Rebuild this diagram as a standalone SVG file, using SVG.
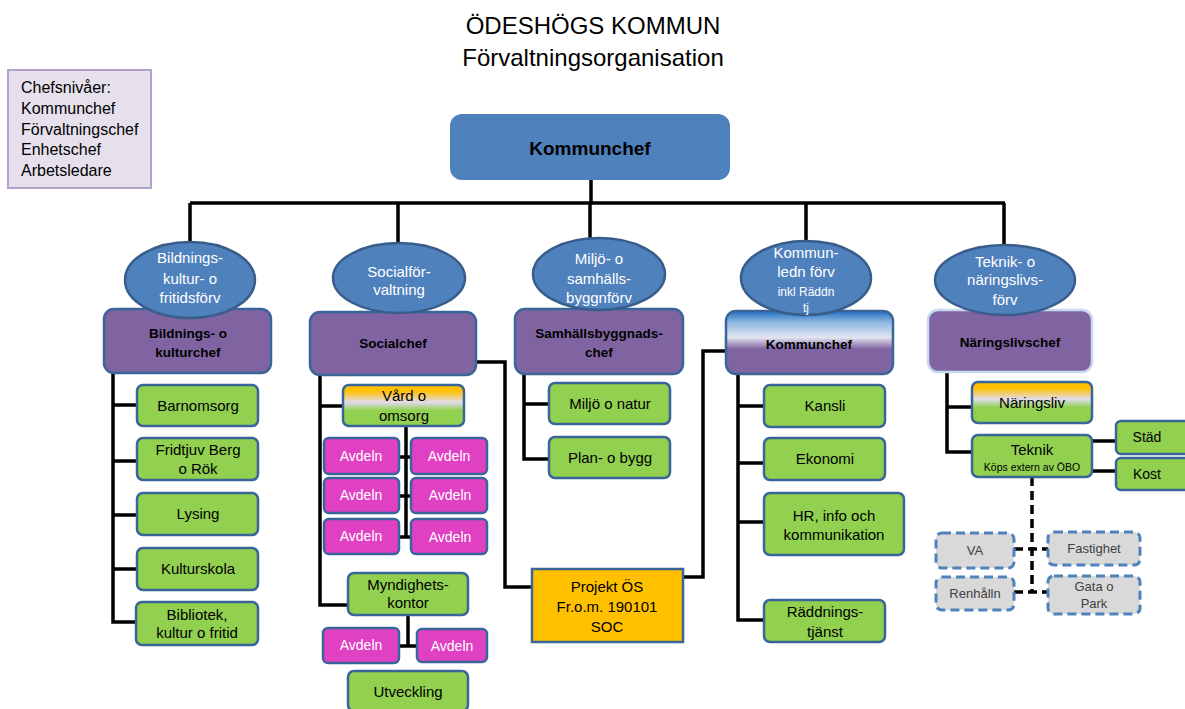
<svg xmlns="http://www.w3.org/2000/svg" width="1185" height="709" viewBox="0 0 1185 709">
<style>
text{font-family:"Liberation Sans",Arial,sans-serif;text-anchor:middle;font-size:15px;fill:#000}
.w{fill:#fff}
.b{font-weight:bold;font-size:13.5px}
.s{font-size:12px}
.g{font-size:13px;fill:#404040}
.l{text-anchor:start;font-size:16px}
.ln{stroke:#000;stroke-width:3.5;fill:none}
.dl{stroke:#000;stroke-width:3.5;fill:none;stroke-dasharray:9 5}
.green{fill:#92d050;stroke:#3a6598;stroke-width:2.5}
.chef{fill:#8064a2;stroke:#3a6598;stroke-width:2.5}
.ell{fill:#4f81bd;stroke:#385d8a;stroke-width:2.5}
.mag{fill:#e040c2;stroke:#3a6598;stroke-width:2.5}
.gray{fill:#d9d9d9;stroke:#4f81bd;stroke-width:3;stroke-dasharray:9 5}
</style>
<defs>
<linearGradient id="gk" x1="0" y1="0" x2="0" y2="1">
<stop offset="0" stop-color="#1f6fc0"/>
<stop offset="0.18" stop-color="#8fb8e2"/>
<stop offset="0.42" stop-color="#e2e4f0"/>
<stop offset="0.6" stop-color="#8064a2"/>
<stop offset="1" stop-color="#8064a2"/>
</linearGradient>
<linearGradient id="go" x1="0" y1="0" x2="0" y2="1">
<stop offset="0" stop-color="#ffc000"/>
<stop offset="0.15" stop-color="#ffc000"/>
<stop offset="0.42" stop-color="#e2dced"/>
<stop offset="0.62" stop-color="#92d050"/>
<stop offset="1" stop-color="#92d050"/>
</linearGradient>
</defs>
<rect width="1185" height="709" fill="#fff"/>
<g id="title">
<text x="593" y="34" style="font-size:24px">ÖDESHÖGS KOMMUN</text>
<text x="593" y="66" style="font-size:24px">Förvaltningsorganisation</text>
</g>
<g id="legend">
<rect x="8" y="70" width="143" height="118" fill="#e6e0ec" stroke="#b3a2c7" stroke-width="2"/>
<text class="l" x="21" y="93">Chefsnivåer:</text>
<text class="l" x="21" y="114">Kommunchef</text>
<text class="l" x="21" y="135">Förvaltningschef</text>
<text class="l" x="21" y="155">Enhetschef</text>
<text class="l" x="21" y="176">Arbetsledare</text>
</g>
<g id="connectors">
<path class="ln" d="M591,180V203M190,203H1005M190,203V243M398,203V243M590,203V240M806,203V243M1004,203V246"/>
<path class="ln" d="M113,373V622H136M113,405H137M113,461H137M113,515H137M113,569H137"/>
<path class="ln" d="M320,375V605H348M320,406H343M406,426V537M399,457H411M399,496H411M399,537H411M408,615V646M399,646H417"/>
<path class="ln" d="M476,362H505V587H532"/>
<path class="ln" d="M683,577H703V351H726"/>
<path class="ln" d="M524,374V459H549M524,404H549"/>
<path class="ln" d="M738,374V620H764M738,406H764M738,463H764M738,522H764"/>
<path class="ln" d="M947,372V452H972M947,407H972M1092,441H1116M1092,471H1116"/>
<path class="dl" d="M1032,477V592M1014,549H1048M1014,592H1048"/>
</g>
<g id="kommunchef-top">
<rect x="450" y="114" width="280" height="66" rx="12" fill="#4f81bd"/>
<text x="590" y="155" style="font-weight:bold;font-size:19px">Kommunchef</text>
</g>
<g id="chef-bildning">
<rect class="chef" x="104" y="309" width="167" height="64" rx="10"/>
<text class="b" x="188" y="338">Bildnings- o</text>
<text class="b" x="188" y="357">kulturchef</text>
</g>
<g id="chef-social">
<rect class="chef" x="310" y="312" width="166" height="63" rx="10"/>
<text class="b" x="393" y="348">Socialchef</text>
</g>
<g id="chef-samhall">
<rect class="chef" x="515" y="309" width="168" height="65" rx="10"/>
<text class="b" x="599" y="338">Samhällsbyggnads-</text>
<text class="b" x="599" y="357">chef</text>
</g>
<g id="chef-kommun">
<rect x="726" y="311" width="167" height="63" rx="10" fill="url(#gk)" stroke="#3a6598" stroke-width="2.5"/>
<text class="b" x="809" y="349">Kommunchef</text>
</g>
<g id="chef-naring">
<rect x="928" y="310" width="164" height="62" rx="10" fill="#8064a2" stroke="#c6d9f1" stroke-width="2.5"/>
<text class="b" x="1010" y="347">Näringslivschef</text>
</g>
<g id="forv-bildning">
<ellipse class="ell" cx="190" cy="280" rx="65" ry="38"/>
<text class="w" x="190" y="263">Bildnings-</text>
<text class="w" x="190" y="284">kultur- o</text>
<text class="w" x="190" y="303">fritidsförv</text>
</g>
<g id="forv-social">
<ellipse class="ell" cx="399" cy="278" rx="66" ry="35"/>
<text class="w" x="399" y="277">Socialför-</text>
<text class="w" x="399" y="295">valtning</text>
</g>
<g id="forv-miljo">
<ellipse class="ell" cx="599" cy="274" rx="66" ry="36"/>
<text class="w" x="599" y="264">Miljö- o</text>
<text class="w" x="599" y="284">samhälls-</text>
<text class="w" x="599" y="303">byggnförv</text>
</g>
<g id="forv-kommunledn">
<ellipse class="ell" cx="806" cy="278" rx="65" ry="37"/>
<text class="w" x="806" y="258">Kommun-</text>
<text class="w" x="806" y="277">ledn förv</text>
<text class="w s" x="806" y="296">inkl Räddn</text>
<text class="w s" x="806" y="312">tj</text>
</g>
<g id="forv-teknik">
<ellipse class="ell" cx="1005" cy="280" rx="70" ry="35"/>
<text class="w" x="1005" y="267">Teknik- o</text>
<text class="w" x="1005" y="285">näringslivs-</text>
<text class="w" x="1005" y="305">förv</text>
</g>
<g id="barnomsorg"><rect class="green" x="137" y="385" width="121" height="41" rx="6"/><text x="198" y="411">Barnomsorg</text></g>
<g id="fridtjuv"><rect class="green" x="137" y="438" width="121" height="42" rx="6"/><text x="198" y="455">Fridtjuv Berg</text><text x="198" y="474">o Rök</text></g>
<g id="lysing"><rect class="green" x="137" y="493" width="121" height="42" rx="6"/><text x="198" y="519">Lysing</text></g>
<g id="kulturskola"><rect class="green" x="137" y="548" width="121" height="42" rx="6"/><text x="198" y="574">Kulturskola</text></g>
<g id="bibliotek"><rect class="green" x="136" y="602" width="122" height="43" rx="6"/><text x="197" y="620">Bibliotek,</text><text x="197" y="638">kultur  o fritid</text></g>
<g id="vard"><rect x="343" y="385" width="121" height="41" rx="6" fill="url(#go)" stroke="#3a6598" stroke-width="2.5"/><text x="404" y="401">Vård o</text><text x="404" y="421">omsorg</text></g>
<g id="avd1"><rect class="mag" x="324" y="438" width="75" height="36" rx="5"/><text class="w" x="361" y="461" style="font-size:14px">Avdeln</text></g>
<g id="avd2"><rect class="mag" x="411" y="438" width="76" height="36" rx="5"/><text class="w" x="449" y="461" style="font-size:14px">Avdeln</text></g>
<g id="avd3"><rect class="mag" x="324" y="478" width="75" height="35" rx="5"/><text class="w" x="361" y="500" style="font-size:14px">Avdeln</text></g>
<g id="avd4"><rect class="mag" x="411" y="478" width="76" height="35" rx="5"/><text class="w" x="450" y="500" style="font-size:14px">Avdeln</text></g>
<g id="avd5"><rect class="mag" x="324" y="519" width="75" height="35" rx="5"/><text class="w" x="361" y="541" style="font-size:14px">Avdeln</text></g>
<g id="avd6"><rect class="mag" x="411" y="519" width="76" height="35" rx="5"/><text class="w" x="450" y="542" style="font-size:14px">Avdeln</text></g>
<g id="myndighet"><rect class="green" x="348" y="573" width="120" height="42" rx="6"/><text x="408" y="590">Myndighets-</text><text x="408" y="608">kontor</text></g>
<g id="avd7"><rect class="mag" x="323" y="628" width="76" height="35" rx="5"/><text class="w" x="361" y="650" style="font-size:14px">Avdeln</text></g>
<g id="avd8"><rect class="mag" x="417" y="629" width="70" height="33" rx="5"/><text class="w" x="452" y="651" style="font-size:14px">Avdeln</text></g>
<g id="utveckling"><rect class="green" x="348" y="671" width="120" height="40" rx="6"/><text x="408" y="697">Utveckling</text></g>
<g id="miljo"><rect class="green" x="549" y="383" width="121" height="41" rx="6"/><text x="610" y="409">Miljö o natur</text></g>
<g id="plan"><rect class="green" x="549" y="437" width="121" height="41" rx="6"/><text x="610" y="463">Plan- o bygg</text></g>
<g id="projekt"><rect x="532" y="569" width="151" height="73" fill="#ffc000" stroke="#3a6598" stroke-width="2.5"/><text x="607" y="592">Projekt ÖS</text><text x="607" y="612">Fr.o.m. 190101</text><text x="607" y="632">SOC</text></g>
<g id="kansli"><rect class="green" x="764" y="385" width="121" height="42" rx="6"/><text x="825" y="411">Kansli</text></g>
<g id="ekonomi"><rect class="green" x="764" y="438" width="121" height="42" rx="6"/><text x="825" y="464">Ekonomi</text></g>
<g id="hr"><rect class="green" x="764" y="493" width="140" height="62" rx="6"/><text x="834" y="521">HR, info och</text><text x="834" y="540">kommunikation</text></g>
<g id="raddning"><rect class="green" x="764" y="600" width="121" height="42" rx="6"/><text x="825" y="617">Räddnings-</text><text x="825" y="637">tjänst</text></g>
<g id="naringsliv"><rect x="972" y="382" width="120" height="41" rx="6" fill="url(#go)" stroke="#3a6598" stroke-width="2.5"/><text x="1032" y="408">Näringsliv</text></g>
<g id="teknik"><rect class="green" x="972" y="435" width="120" height="42" rx="6"/><text x="1032" y="455">Teknik</text><text x="1032" y="471" style="font-size:10.5px">Köps extern av ÖBO</text></g>
<g id="stad"><rect class="green" x="1116" y="421" width="78" height="33" rx="5" stroke="#4f81bd"/><text x="1147" y="442" style="font-size:14px">Städ</text></g>
<g id="kost"><rect class="green" x="1116" y="458" width="78" height="32" rx="5" stroke="#4f81bd"/><text x="1147" y="479" style="font-size:14px">Kost</text></g>
<g id="va"><rect class="gray" x="936" y="533" width="78" height="35" rx="6"/><text class="g" x="975" y="555">VA</text></g>
<g id="fastighet"><rect class="gray" x="1048" y="532" width="92" height="33" rx="6"/><text class="g" x="1094" y="553">Fastighet</text></g>
<g id="renhalln"><rect class="gray" x="936" y="577" width="78" height="33" rx="6"/><text class="g" x="975" y="598">Renhålln</text></g>
<g id="gata"><rect class="gray" x="1048" y="576" width="92" height="38" rx="6"/><text class="g" x="1094" y="591">Gata o</text><text class="g" x="1094" y="608">Park</text></g>
</svg>
